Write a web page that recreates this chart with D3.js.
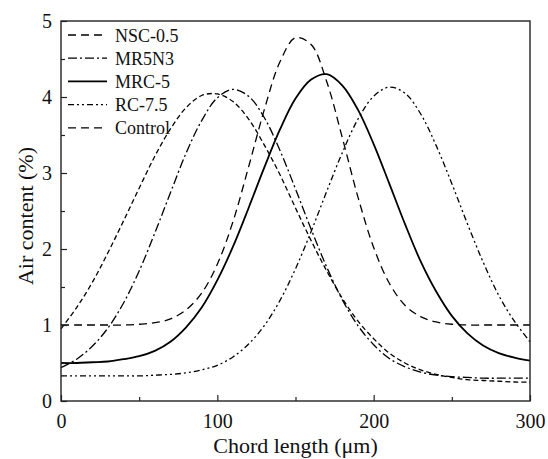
<!DOCTYPE html>
<html>
<meta charset="utf-8">
<head>
  <script src="https://d3js.org/d3.v7.min.js"></script>
  <style>
    body { margin: 0; background: #fff; }
    text { font-family: "Liberation Serif", "Times New Roman", serif; fill: #111; }
  </style>
</head>
<body>
<div id="chart"></div>
<script>

  // chord length samples (um)
  var chordLength = [0,10,20,30,40,50,60,70,80,90,100,110,120,130,140,150,
                     160,170,180,190,200,210,220,230,240,250,260,270,280,290,300];

  // air content (%)
  var nsc05 = [1.00,1.00,1.00,1.00,1.00,1.01,1.03,1.08,1.20,1.42,1.80,2.36,3.08,3.83,4.46,4.78,
               4.69,4.20,3.46,2.68,2.02,1.55,1.26,1.11,1.04,1.01,1.00,1.00,1.00,1.00,1.00];
  var mr5n3 = [0.44,0.55,0.72,0.96,1.29,1.71,2.21,2.74,3.26,3.69,3.99,4.10,4.01,3.73,3.30,2.79,
               2.26,1.76,1.33,0.99,0.74,0.56,0.45,0.38,0.34,0.32,0.31,0.30,0.30,0.30,0.30];
  var mrc5  = [0.50,0.50,0.51,0.52,0.55,0.59,0.66,0.78,0.97,1.23,1.59,2.03,2.54,3.07,3.57,3.98,
               4.23,4.30,4.15,3.83,3.38,2.86,2.33,1.84,1.44,1.12,0.89,0.73,0.63,0.57,0.53];
  var rc75  = [0.33,0.33,0.33,0.33,0.33,0.33,0.34,0.35,0.37,0.41,0.47,0.58,0.75,0.99,1.32,1.74,
               2.23,2.76,3.27,3.71,4.01,4.13,4.05,3.78,3.36,2.86,2.33,1.83,1.39,1.05,0.78];
  var control = [0.95,1.23,1.56,1.95,2.37,2.80,3.22,3.58,3.86,4.02,4.04,3.94,3.71,3.37,2.98,2.54,
                 2.11,1.71,1.35,1.05,0.82,0.63,0.50,0.41,0.35,0.31,0.28,0.27,0.26,0.25,0.25];

  var seriesNames = ["NSC-0.5", "MR5N3", "MRC-5", "RC-7.5", "Control"];
  var seriesValues = [nsc05, mr5n3, mrc5, rc75, control];

  var xTicks = [0, 100, 200, 300];
  var xMinor = [50, 150, 250];
  var yTicks = [0, 1, 2, 3, 4, 5];
  var yMinor = [0.5, 1.5, 2.5, 3.5, 4.5];

  // line looks per series
  var dashes = ["8,5", "9,3,2,3", null, "6,3,2,3,2,3", "5,3"];
  var widths = [1.3, 1.3, 1.8, 1.3, 1.3];

  var W = 548, H = 459;
  var margin = {left: 61, right: 18, top: 21, bottom: 58};
  var pw = W - margin.left - margin.right;
  var ph = H - margin.top - margin.bottom;

  var svg = d3.select("#chart").append("svg")
      .attr("width", W)
      .attr("height", H);

  var g = svg.append("g")
      .attr("transform", "translate(" + margin.left + "," + margin.top + ")");

  var x = d3.scaleLinear().domain([0, 300]).range([0, pw]);
  var y = d3.scaleLinear().domain([0, 5]).range([ph, 0]);

  var line = d3.line()
      .x(function(d) { return x(d[0]); })
      .y(function(d) { return y(d[1]); })
      .curve(d3.curveCatmullRom);

  // curves
  seriesValues.forEach(function(vals, i) {
    var pts = chordLength.map(function(c, j) { return [c, vals[j]]; });
    g.append("path")
      .attr("d", line(pts))
      .attr("fill", "none")
      .attr("stroke", "#000")
      .attr("stroke-width", widths[i])
      .attr("stroke-dasharray", dashes[i]);
  });

  // axes, ticks pointing inside
  var xAxis = g.append("g")
      .attr("transform", "translate(0," + ph + ")")
      .call(d3.axisBottom(x).tickValues(xTicks).tickSizeInner(-6).tickSizeOuter(0).tickPadding(13));
  g.append("g")
      .attr("transform", "translate(0," + ph + ")")
      .call(d3.axisBottom(x).tickValues(xMinor).tickSizeInner(-4).tickSizeOuter(0).tickFormat(""));

  var yAxis = g.append("g")
      .call(d3.axisLeft(y).tickValues(yTicks).tickSizeInner(-6).tickSizeOuter(0).tickPadding(9)
        .tickFormat(d3.format("d")));
  g.append("g")
      .call(d3.axisLeft(y).tickValues(yMinor).tickSizeInner(-4).tickSizeOuter(0).tickFormat(""));

  g.selectAll(".tick text")
      .style("font-size", "20px")
      .attr("fill", "#111");
  g.selectAll(".domain").attr("stroke", "none");
  g.selectAll(".tick line").attr("stroke", "#222").attr("stroke-width", 1.2);

  // frame
  g.append("rect")
      .attr("width", pw)
      .attr("height", ph)
      .attr("fill", "none")
      .attr("stroke", "#222")
      .attr("stroke-width", 1.4);

  // axis titles
  svg.append("text")
      .attr("x", margin.left + pw / 2)
      .attr("y", 453)
      .attr("text-anchor", "middle")
      .style("font-size", "22px")
      .text("Chord length (\u03bcm)");

  svg.append("text")
      .attr("transform", "translate(33," + (margin.top + ph / 2 + 5) + ") rotate(-90)")
      .attr("text-anchor", "middle")
      .style("font-size", "22px")
      .text("Air content (%)");

  // legend
  var legend = g.append("g").attr("transform", "translate(7,14)");
  seriesNames.forEach(function(name, i) {
    var row = legend.append("g").attr("transform", "translate(0," + (i * 23.2) + ")");
    row.append("line")
      .attr("x1", 0).attr("x2", 39)
      .attr("y1", 0).attr("y2", 0)
      .attr("stroke", "#000")
      .attr("stroke-width", widths[i])
      .attr("stroke-dasharray", i == 4 ? dashes[0] : dashes[i]);
    row.append("text")
      .attr("x", 47)
      .attr("y", 6.5)
      .style("font-size", "18px")
      .text(name);
  });

</script>
</body>
</html>
